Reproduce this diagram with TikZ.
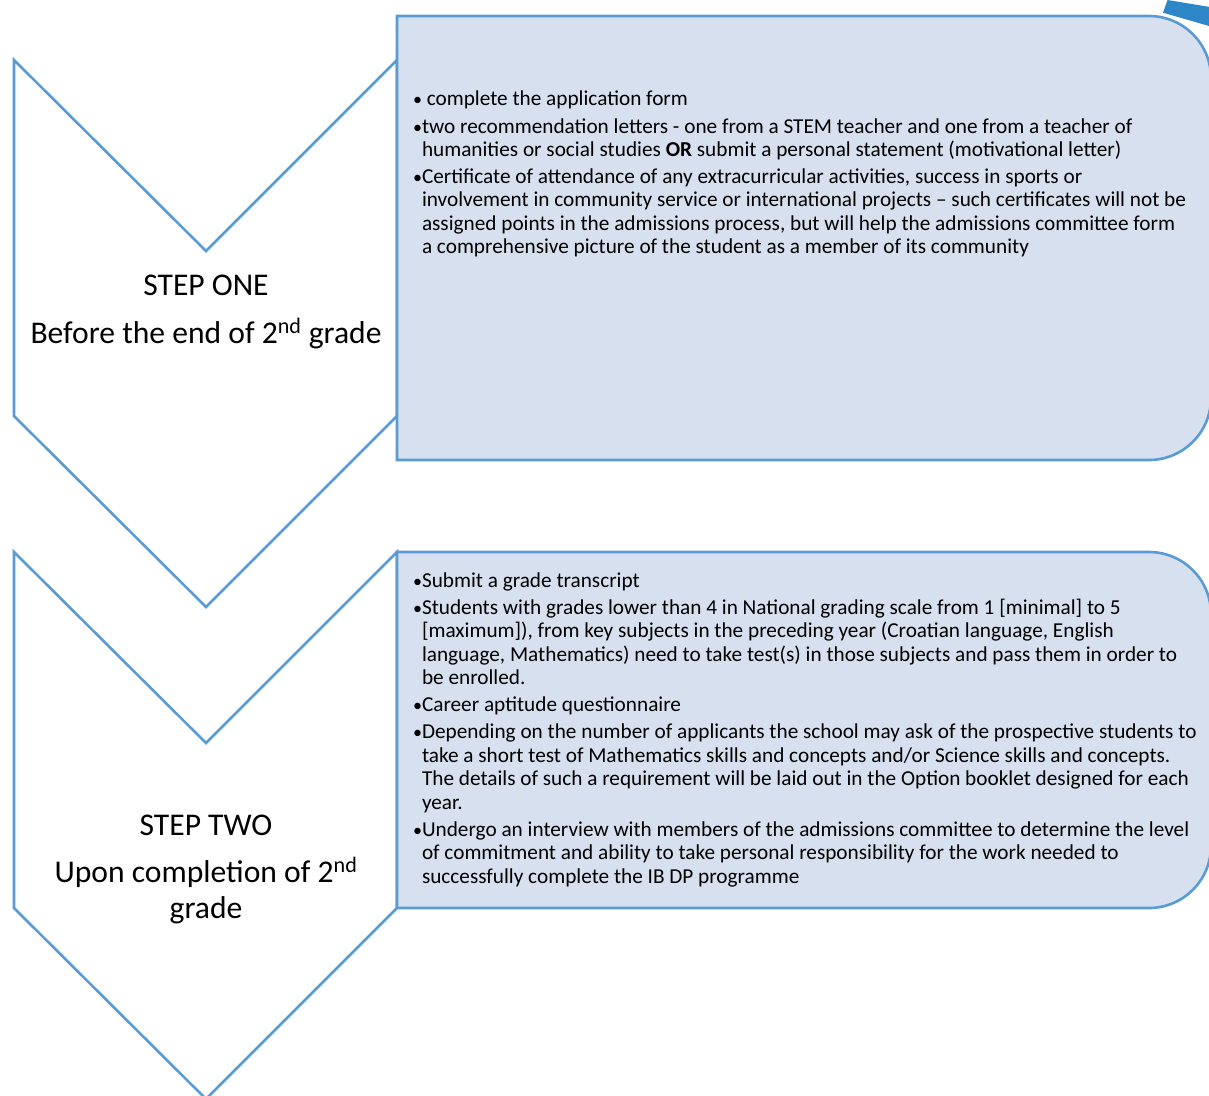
\documentclass[tikz,border=0pt]{standalone}
\usepackage{fontspec}
\setmainfont{Carlito}
\definecolor{edgeblue}{RGB}{91,155,213}
\definecolor{boxfill}{RGB}{214,224,238}
\definecolor{deepblue}{RGB}{44,134,200}
\newcommand{\bul}{\makebox[7pt][l]{\hspace*{-2pt}\scalebox{0.85}{\textbullet}}}
\newcommand{\ind}{\hspace*{7pt}}
\tikzset{
  chevron/.style={draw=edgeblue, fill=white, line width=2.6pt, line join=miter},
  infobox/.style={draw=edgeblue, fill=boxfill, line width=2.6pt},
  bodytext/.style={anchor=base west, inner sep=0pt, outer sep=0pt,
    font=\fontsize{21.25}{23.5}\selectfont},
  steptext/.style={anchor=base, inner sep=0pt, font=\fontsize{31.6}{36}\selectfont}
}
\begin{document}
\begin{tikzpicture}[x=1pt,y=-1pt]
\useasboundingbox (0,0) rectangle (1209,1095);
\begin{scope}
\clip (0,0) rectangle (1209,1095);
% decorative bar at top right
\fill[deepblue] (1167.5,0) -- (1163,12.7) -- (1216,28) -- (1216,8) -- cycle;
% chevrons
\draw[chevron] (14,60) -- (206,251) -- (397,60) -- (397,416) -- (206,607) -- (14,416) -- cycle;
\draw[chevron] (14,552) -- (206,743) -- (397,552) -- (397,908) -- (206,1099) -- (14,908) -- cycle;
% boxes
\draw[infobox] (397,16) -- (1149,16) .. controls (1183.2,16) and (1211,43.8) .. (1211,78)
  -- (1211,398) .. controls (1211,432.2) and (1183.2,460) .. (1149,460) -- (397,460) -- cycle;
\draw[infobox] (397,552) -- (1149,552) .. controls (1183.2,552) and (1211,579.8) .. (1211,614)
  -- (1211,846) .. controls (1211,880.2) and (1183.2,908) .. (1149,908) -- (397,908) -- cycle;
\end{scope}
% step labels
\node[steptext] (s1a) at (206,295) {STEP ONE};
\node[steptext] (s1b) at (206,343) {Before the end of 2\textsuperscript{nd} grade};
\node[steptext] (s2a) at (206,835) {STEP TWO};
\node[steptext] (s2b) at (206,882) {Upon completion of 2\textsuperscript{nd}};
\node[steptext] (s2c) at (206,918) {grade};
% box texts
\node[bodytext] (t1) at (415,105) {\begin{minipage}[t]{800pt}\raggedright
\bul\ complete the application form\\[4.5pt]
\bul two recommendation letters - one from a STEM teacher and one from a teacher of\\
\ind humanities or social studies \textbf{OR} submit a personal statement (motivational letter)\\[3pt]
\bul Certificate of attendance of any extracurricular activities, success in sports or\\
\ind involvement in community service or international projects – such certificates will not be\\
\ind assigned points in the admissions process, but will help the admissions committee form\\
\ind a comprehensive picture of the student as a member of its community
\end{minipage}};
\node[bodytext] (t2) at (415,587) {\begin{minipage}[t]{800pt}\raggedright
\bul Submit a grade transcript\\[3.5pt]
\bul Students with grades lower than 4 in National grading scale from 1 [minimal] to 5\\
\ind [maximum]), from key subjects in the preceding year (Croatian language, English\\
\ind language, Mathematics) need to take test(s) in those subjects and pass them in order to\\
\ind be enrolled.\\[3.5pt]
\bul Career aptitude questionnaire\\[3.5pt]
\bul Depending on the number of applicants the school may ask of the prospective students to\\
\ind take a short test of Mathematics skills and concepts and/or Science skills and concepts.\\
\ind The details of such a requirement will be laid out in the Option booklet designed for each\\
\ind year.\\[3.5pt]
\bul Undergo an interview with members of the admissions committee to determine the level\\
\ind of commitment and ability to take personal responsibility for the work needed to\\
\ind successfully complete the IB DP programme
\end{minipage}};
\end{tikzpicture}
\end{document}
